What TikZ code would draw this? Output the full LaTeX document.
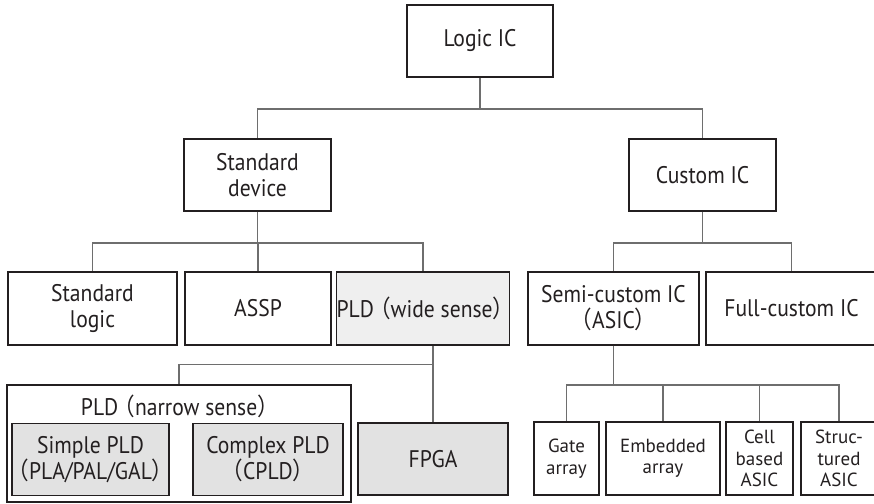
\documentclass[tikz,border=0pt]{standalone}
\usepackage{fontspec}
\setmainfont{PT Sans}[FakeStretch=0.9]
\newfontfamily\cjk{Noto Sans CJK JP}[FakeStretch=0.9]
\newfontfamily\smallsans{PT Sans}
\def\lp{{\cjk\kern-.2em（}}
\def\rp{{\cjk）\kern-.2em}}
\definecolor{ink}{HTML}{231F20}
\definecolor{wire}{HTML}{6E6E6E}
\definecolor{lightfill}{HTML}{EFEFEF}
\definecolor{darkfill}{HTML}{E2E2E2}

\begin{document}
\begin{tikzpicture}[
x=1pt, y=-1pt,
box/.style={draw=ink, line width=1.8pt, inner sep=0pt, align=center, text=ink,
  minimum height=72pt, font=\fontsize{24}{26}\selectfont},
smallbox/.style={box, font=\smallsans\fontsize{19}{21.5}\selectfont},
conn/.style={draw=wire, line width=1.2pt},
]
\useasboundingbox (0,0) rectangle (874,503);
\clip (0,0) rectangle (874,503);

\node[box, minimum width=146pt] at (480,41) (logic) {Logic IC};

\node[box, minimum width=147pt] at (257.5,175) (std) {Standard\\device};
\node[box, minimum width=147pt] at (702.5,175) (custom) {Custom IC};

\node[box, minimum width=169pt, minimum height=73pt] at (92.5,308.5) (stdlogic) {Standard\\logic};
\node[box, minimum width=146pt, minimum height=73pt] at (258,308.5) (assp) {ASSP};
\node[box, minimum width=170pt, minimum height=73pt, fill=lightfill] at (423,308.5) (pldw) {PLD\lp wide sense\rp};
\node[box, minimum width=171pt, minimum height=73pt] at (613.5,308.5) (semi) {Semi-custom IC\\\lp ASIC\rp};
\node[box, minimum width=171pt, minimum height=73pt] at (791.5,308.5) (full) {Full-custom IC};

% PLD in the narrow sense:
\node[draw=ink, line width=1.8pt, minimum width=344pt, minimum height=117pt] at (179,443.5) (narrow) {};
\node[text=ink, font=\fontsize{24}{26}\selectfont] at (177.5,406) (narrowlbl) {PLD\lp narrow sense\rp};
\node[box, minimum width=151pt, fill=darkfill] at (90.5,459.5) (simple) {Simple PLD\\\lp PLA/PAL/GAL\rp};
\node[box, minimum width=150pt, fill=darkfill] at (268,459.5) (complex) {Complex PLD\\\lp CPLD\rp};
\node[box, minimum width=150pt, fill=darkfill] at (433,459) (fpga) {FPGA};

% ASIC kinds:
\node[smallbox, minimum width=65pt, minimum height=73pt] at (566.5,458.5) (gate) {Gate\\array};
\node[smallbox, minimum width=114pt, minimum height=73pt] at (663,458.5) (embedded) {Embedded\\array};
\node[smallbox, minimum width=67pt, minimum height=73pt] at (759.5,458.5) (cell) {Cell\\based\\ASIC};
\node[smallbox, minimum width=76pt, minimum height=73pt] at (839,458.5) (structured) {Struc-\\tured\\ASIC};

\draw[conn] (logic.south) -- ++(0,31) -| (std.north);
\draw[conn] (logic.south) -- ++(0,31) -| (custom.north);

\draw[conn] (std.south) -- ++(0,31) -| (stdlogic.north);
\draw[conn] (std.south) -- ++(0,31) -| (assp.north);
\draw[conn] (std.south) -- ++(0,31) -| (pldw.north);

\draw[conn] (custom.south) -- ++(0,31) -| (semi.north);
\draw[conn] (custom.south) -- ++(0,31) -| (full.north);

\draw[conn] (fpga.north) -- (fpga.north |- pldw.south);
\draw[conn] (fpga.north) ++(0,-58) -| (narrow.north);

\draw[conn] (semi.south) -- ++(0,39) -| (gate.north);
\draw[conn] (semi.south) -- ++(0,39) -| (embedded.north);
\draw[conn] (semi.south) -- ++(0,39) -| (cell.north);
\draw[conn] (semi.south) -- ++(0,39) -| (structured.north);
\end{tikzpicture}
\end{document}
